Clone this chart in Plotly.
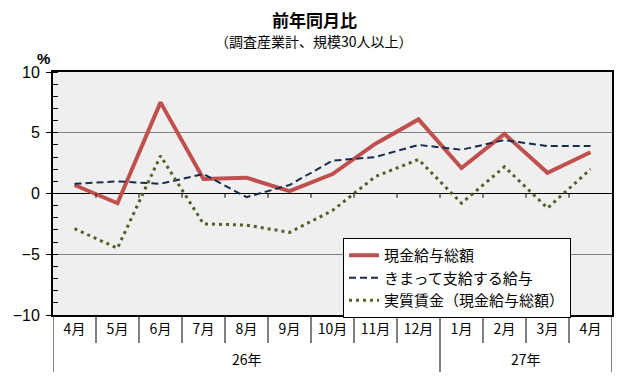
import plotly.graph_objects as go

months = ["4月", "5月", "6月", "7月", "8月", "9月", "10月", "11月", "12月", "1月", "2月", "3月", "4月"]
years = ["26年", "27年"]
year_spans = [(0, 8), (9, 12)]

cash_total = [0.7, -0.8, 7.5, 1.2, 1.3, 0.2, 1.6, 4.1, 6.1, 2.1, 4.9, 1.7, 3.4]
scheduled = [0.8, 1.0, 0.8, 1.6, -0.3, 0.7, 2.7, 3.0, 4.0, 3.6, 4.4, 3.9, 3.9]
real_wage = [-2.9, -4.5, 3.1, -2.5, -2.6, -3.2, -1.4, 1.4, 2.8, -0.8, 2.2, -1.2, 2.0]

names = ["現金給与総額", "きまって支給する給与", "実質賃金（現金給与総額）"]

JP = "Noto Sans CJK JP"
x = list(range(len(months)))

OFF = 8  # page body margin offset
W, H = 630, 380
# screen-pixel geometry of the plot area
SX0, SX1, SY0, SY1 = 53, 612, 72, 315
L = SX0 - OFF
T = SY0 - OFF
R = W - (SX1 - OFF)
B = H - (SY1 - OFF)
pw, ph = W - L - R, H - T - B


def px_x(sx):
    return (sx - SX0) / pw


def px_y(sy):
    return (SY1 - sy) / ph


fig = go.Figure()
fig.add_trace(go.Scatter(x=x, y=cash_total, mode="lines", name=names[0],
                         line=dict(color="#c0504d", width=4)))
fig.add_trace(go.Scatter(x=x, y=scheduled, mode="lines", name=names[1],
                         line=dict(color="#1a2b4c", width=2, dash="7px,4px")))
fig.add_trace(go.Scatter(x=x, y=real_wage, mode="lines", name=names[2],
                         line=dict(color="#4f6228", width=3, dash="3px,4px")))

shapes = []
n = len(months)
# small ticks on the zero line at category boundaries
for i in range(n - 1):
    shapes.append(dict(type="line", xref="x", yref="y", x0=i + 0.5, x1=i + 0.5,
                       y0=0, y1=-0.35, line=dict(color="black", width=1)))
# separators under the plot
long_bounds = {-0.5, year_spans[0][1] + 0.5, n - 0.5}
for i in range(n + 1):
    b = i - 0.5
    y1 = px_y(372) if b in long_bounds else px_y(343)
    shapes.append(dict(type="line", xref="x", yref="paper", x0=b, x1=b,
                       y0=0, y1=y1, line=dict(color="black", width=1)))

annotations = []
for (a, b), lab in zip(year_spans, years):
    annotations.append(dict(x=(a + b) / 2, y=px_y(359), xref="x", yref="paper",
                            text=lab, showarrow=False,
                            font=dict(family=JP, size=14, color="black"),
                            xanchor="center", yanchor="middle"))
annotations.append(dict(x=px_x(43), y=px_y(59), xref="paper", yref="paper", text="<b>%</b>",
                        showarrow=False, xanchor="center", yanchor="middle",
                        font=dict(family="Liberation Sans", size=15, color="black")))
annotations.append(dict(x=px_x(314), y=px_y(19), xref="paper", yref="paper", text="<b>前年同月比</b>",
                        showarrow=False, xanchor="center", yanchor="middle",
                        font=dict(family=JP, size=17, color="black")))
annotations.append(dict(x=px_x(314), y=px_y(41), xref="paper", yref="paper", text="（調査産業計、規模30人以上）",
                        showarrow=False, xanchor="center", yanchor="middle",
                        font=dict(family=JP, size=14, color="black")))

fig.update_layout(
    width=W, height=H,
    margin=dict(l=L, r=R, t=T, b=B, autoexpand=False),
    paper_bgcolor="white",
    plot_bgcolor="#efeff0",
    showlegend=True,
    legend=dict(x=px_x(343), y=px_y(238), xanchor="left", yanchor="top",
                bgcolor="white", bordercolor="black", borderwidth=1,
                font=dict(family=JP, size=15, color="black"),
                itemwidth=30, tracegroupgap=0),
    shapes=shapes,
    annotations=annotations,
    xaxis=dict(range=[-0.5, n - 0.5], tickvals=x, ticktext=months, automargin=False,
               showgrid=False, zeroline=False, ticks="", fixedrange=True,
               showline=True, linecolor="black", linewidth=2, mirror=True,
               tickfont=dict(family=JP, size=14, color="black")),
    yaxis=dict(range=[-10, 10], tickvals=[-10, -5, 0, 5, 10], automargin=False,
               ticktext=["−10", "−5", "0", "5", "10"],
               showgrid=True, gridcolor="#808080", gridwidth=1,
               zeroline=True, zerolinecolor="black", zerolinewidth=1,
               ticks="outside", ticklen=5, tickcolor="black", ticklabelstandoff=3,
               minor=dict(ticks="inside", dtick=1, ticklen=5, tickcolor="black", showgrid=False),
               showline=True, linecolor="black", linewidth=2, mirror=True,
               tickfont=dict(family="Liberation Sans", size=16, color="black")),
)

fig.write_html("out.html")
